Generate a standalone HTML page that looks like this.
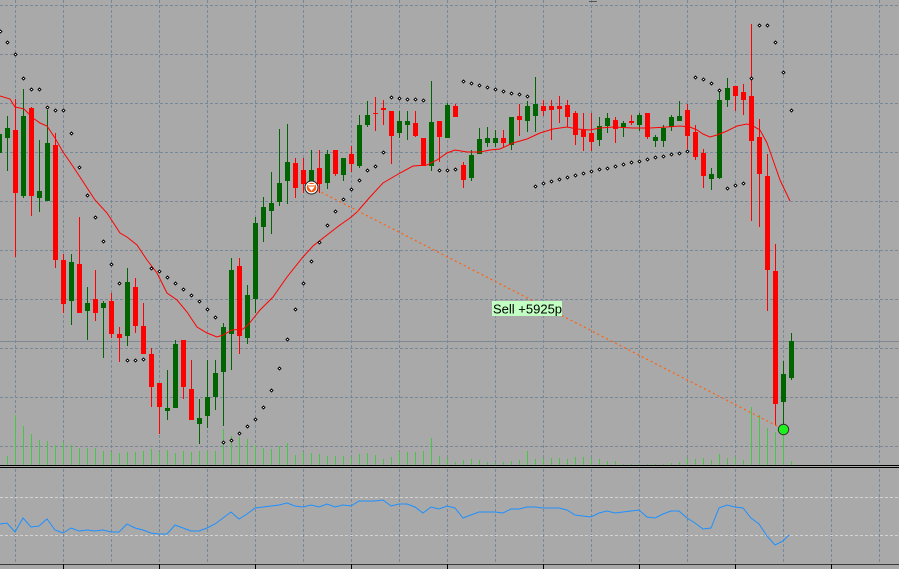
<!DOCTYPE html>
<html><head><meta charset="utf-8"><style>
html,body{margin:0;padding:0;background:#a9a9a9;width:899px;height:569px;overflow:hidden}
svg{display:block}
.g{fill:#006400}.r{fill:#ff0000}
</style></head><body>
<svg width="899" height="569" viewBox="0 0 899 569" xmlns="http://www.w3.org/2000/svg" shape-rendering="crispEdges">
<rect x="0" y="0" width="899" height="569" fill="#a9a9a9"/>
<!-- grid main -->
<g stroke="#778899" stroke-width="1" stroke-dasharray="3,2" fill="none">
<path d="M0 5.5H899M0 54.5H899M0 103.5H899M0 152.5H899M0 201.5H899M0 250.5H899M0 299.5H899M0 348.5H899M0 397.5H899M0 446.5H899"/>
<path d="M15.5 0V464M63.5 0V464M111.5 0V464M159.5 0V464M207.5 0V464M255.5 0V464M303.5 0V464M351.5 0V464M399.5 0V464M447.5 0V464M495.5 0V464M543.5 0V464M591.5 0V464M639.5 0V464M687.5 0V464M735.5 0V464M783.5 0V464M831.5 0V464M879.5 0V464"/>
<path d="M15.5 469V564M63.5 469V564M111.5 469V564M159.5 469V564M207.5 469V564M255.5 469V564M303.5 469V564M351.5 469V564M399.5 469V564M447.5 469V564M495.5 469V564M543.5 469V564M591.5 469V564M639.5 469V564M687.5 469V564M735.5 469V564M783.5 469V564M831.5 469V564M879.5 469V564"/>
</g>
<path d="M0 341.5H899" stroke="#7f8893" stroke-width="1"/>
<!-- sub window levels -->
<path d="M0 497.5H899M0 535.5H899" stroke="#d2d2d2" stroke-width="1" stroke-dasharray="3,2"/>
<!-- volumes -->
<path fill="none" stroke="#44c844" stroke-width="1" d="M7.5 456V465M15.5 415V465M23.5 426V465M31.5 434V465M39.5 440V465M47.5 441V465M55.5 445V465M63.5 442V465M71.5 445V465M79.5 448V465M87.5 448V465M95.5 448V465M103.5 451V465M111.5 452V465M119.5 453V465M127.5 452V465M135.5 452V465M143.5 451V465M151.5 449V465M159.5 452V465M167.5 450V465M175.5 453V465M183.5 451V465M191.5 452V465M199.5 451V465M207.5 451V465M215.5 451V465M223.5 429V465M231.5 436V465M239.5 437V465M247.5 439V465M255.5 445V465M263.5 448V465M271.5 449V465M279.5 446V465M287.5 443V465M295.5 455V465M303.5 452V465M311.5 453V465M319.5 454V465M327.5 456V465M335.5 456V465M343.5 456V465M351.5 457V465M359.5 454V465M367.5 453V465M375.5 455V465M383.5 459V465M391.5 457V465M399.5 452V465M407.5 452V465M415.5 452V465M423.5 451V465M431.5 438V465M439.5 456V465M447.5 458V465M455.5 462V465M463.5 460V465M471.5 459V465M479.5 460V465M487.5 462V465M495.5 463V465M503.5 462V465M511.5 461V465M519.5 460V465M527.5 451V465M535.5 459V465M543.5 458V465M551.5 458V465M559.5 458V465M567.5 459V465M575.5 457V465M583.5 457V465M591.5 458V465M599.5 459V465M607.5 461V465M615.5 461V465M623.5 464V465M631.5 464V465M639.5 464V465M647.5 464V465M655.5 464V465M663.5 464V465M671.5 463V465M679.5 462V465M687.5 458V465M695.5 459V465M703.5 458V465M711.5 460V465M719.5 454V465M727.5 458V465M735.5 457V465M743.5 460V465M751.5 407V465M759.5 415V465M767.5 428V465M775.5 432V465M783.5 433V465M791.5 461V465"/>
<!-- candles -->
<g>
<rect class="g" x="-1" y="128" width="1" height="33"/><rect class="g" x="-3" y="134" width="5" height="19"/>
<rect class="g" x="7" y="116" width="1" height="55"/><rect class="g" x="5" y="128" width="5" height="10"/>
<rect class="r" x="15" y="99" width="1" height="158"/><rect class="r" x="13" y="130" width="5" height="63"/>
<rect class="g" x="23" y="89" width="1" height="109"/><rect class="g" x="21" y="116" width="5" height="80"/>
<rect class="r" x="31" y="107" width="1" height="109"/><rect class="r" x="29" y="108" width="5" height="88"/>
<rect class="g" x="39" y="140" width="1" height="72"/><rect class="g" x="37" y="191" width="5" height="7"/>
<rect class="g" x="47" y="110" width="1" height="91"/><rect class="g" x="45" y="143" width="5" height="58"/>
<rect class="r" x="55" y="133" width="1" height="135"/><rect class="r" x="53" y="145" width="5" height="115"/>
<rect class="r" x="63" y="254" width="1" height="59"/><rect class="r" x="61" y="260" width="5" height="44"/>
<rect class="g" x="71" y="254" width="1" height="71"/><rect class="g" x="69" y="262" width="5" height="39"/>
<rect class="r" x="79" y="217" width="1" height="96"/><rect class="r" x="77" y="264" width="5" height="49"/>
<rect class="g" x="87" y="287" width="1" height="53"/><rect class="g" x="85" y="303" width="5" height="8"/>
<rect class="r" x="95" y="270" width="1" height="51"/><rect class="r" x="93" y="299" width="5" height="14"/>
<rect class="g" x="103" y="301" width="1" height="57"/><rect class="g" x="101" y="303" width="5" height="5"/>
<rect class="r" x="111" y="293" width="1" height="45"/><rect class="r" x="109" y="301" width="5" height="33"/>
<rect class="r" x="119" y="327" width="1" height="35"/><rect class="r" x="117" y="334" width="5" height="4"/>
<rect class="g" x="127" y="268" width="1" height="78"/><rect class="g" x="125" y="282" width="5" height="54"/>
<rect class="r" x="135" y="278" width="1" height="55"/><rect class="r" x="133" y="287" width="5" height="39"/>
<rect class="r" x="143" y="303" width="1" height="51"/><rect class="r" x="141" y="326" width="5" height="28"/>
<rect class="r" x="151" y="348" width="1" height="59"/><rect class="r" x="149" y="354" width="5" height="33"/>
<rect class="r" x="159" y="383" width="1" height="51"/><rect class="r" x="157" y="383" width="5" height="24"/>
<rect class="g" x="167" y="370" width="1" height="50"/><rect class="g" x="165" y="408" width="5" height="3"/>
<rect class="g" x="175" y="340" width="1" height="68"/><rect class="g" x="173" y="344" width="5" height="64"/>
<rect class="r" x="183" y="340" width="1" height="59"/><rect class="r" x="181" y="340" width="5" height="47"/>
<rect class="r" x="191" y="360" width="1" height="60"/><rect class="r" x="189" y="389" width="5" height="31"/>
<rect class="g" x="199" y="399" width="1" height="45"/><rect class="g" x="197" y="418" width="5" height="6"/>
<rect class="g" x="207" y="360" width="1" height="68"/><rect class="g" x="205" y="397" width="5" height="19"/>
<rect class="g" x="215" y="360" width="1" height="50"/><rect class="g" x="213" y="373" width="5" height="24"/>
<rect class="g" x="223" y="323" width="1" height="103"/><rect class="g" x="221" y="327" width="5" height="45"/>
<rect class="g" x="231" y="258" width="1" height="112"/><rect class="g" x="229" y="270" width="5" height="64"/>
<rect class="r" x="239" y="258" width="1" height="96"/><rect class="r" x="237" y="266" width="5" height="70"/>
<rect class="g" x="247" y="285" width="1" height="59"/><rect class="g" x="245" y="295" width="5" height="43"/>
<rect class="g" x="255" y="217" width="1" height="96"/><rect class="g" x="253" y="223" width="5" height="76"/>
<rect class="g" x="263" y="197" width="1" height="45"/><rect class="g" x="261" y="207" width="5" height="20"/>
<rect class="g" x="271" y="172" width="1" height="62"/><rect class="g" x="269" y="203" width="5" height="8"/>
<rect class="g" x="279" y="129" width="1" height="77"/><rect class="g" x="277" y="183" width="5" height="19"/>
<rect class="g" x="287" y="124" width="1" height="80"/><rect class="g" x="285" y="162" width="5" height="19"/>
<rect class="r" x="295" y="158" width="1" height="40"/><rect class="r" x="293" y="163" width="5" height="25"/>
<rect class="r" x="303" y="158" width="1" height="35"/><rect class="r" x="301" y="170" width="5" height="14"/>
<rect class="g" x="311" y="150" width="1" height="39"/><rect class="g" x="309" y="170" width="5" height="13"/>
<rect class="r" x="319" y="150" width="1" height="43"/><rect class="r" x="317" y="168" width="5" height="16"/>
<rect class="g" x="327" y="150" width="1" height="39"/><rect class="g" x="325" y="154" width="5" height="29"/>
<rect class="r" x="335" y="150" width="1" height="26"/><rect class="r" x="333" y="150" width="5" height="24"/>
<rect class="g" x="343" y="158" width="1" height="23"/><rect class="g" x="341" y="158" width="5" height="17"/>
<rect class="r" x="351" y="146" width="1" height="26"/><rect class="r" x="349" y="154" width="5" height="10"/>
<rect class="g" x="359" y="115" width="1" height="53"/><rect class="g" x="357" y="125" width="5" height="41"/>
<rect class="g" x="367" y="101" width="1" height="26"/><rect class="g" x="365" y="115" width="5" height="10"/>
<rect class="r" x="375" y="97" width="1" height="34"/><rect class="r" x="373" y="113" width="5" height="1"/>
<rect class="r" x="383" y="100" width="1" height="25"/><rect class="r" x="381" y="108" width="5" height="2"/>
<rect class="r" x="391" y="111" width="1" height="53"/><rect class="r" x="389" y="111" width="5" height="25"/>
<rect class="g" x="399" y="111" width="1" height="27"/><rect class="g" x="397" y="121" width="5" height="12"/>
<rect class="g" x="407" y="111" width="1" height="29"/><rect class="g" x="405" y="121" width="5" height="4"/>
<rect class="r" x="415" y="111" width="1" height="26"/><rect class="r" x="413" y="123" width="5" height="13"/>
<rect class="r" x="423" y="138" width="1" height="28"/><rect class="r" x="421" y="138" width="5" height="28"/>
<rect class="g" x="431" y="81" width="1" height="90"/><rect class="g" x="429" y="122" width="5" height="44"/>
<rect class="r" x="439" y="121" width="1" height="41"/><rect class="r" x="437" y="121" width="5" height="16"/>
<rect class="g" x="447" y="103" width="1" height="35"/><rect class="g" x="445" y="105" width="5" height="33"/>
<rect class="r" x="455" y="104" width="1" height="13"/><rect class="r" x="453" y="106" width="5" height="11"/>
<rect class="r" x="463" y="162" width="1" height="26"/><rect class="r" x="461" y="165" width="5" height="15"/>
<rect class="g" x="471" y="150" width="1" height="31"/><rect class="g" x="469" y="155" width="5" height="23"/>
<rect class="g" x="479" y="128" width="1" height="26"/><rect class="g" x="477" y="139" width="5" height="15"/>
<rect class="g" x="487" y="127" width="1" height="20"/><rect class="g" x="485" y="138" width="5" height="5"/>
<rect class="g" x="495" y="130" width="1" height="17"/><rect class="g" x="493" y="138" width="5" height="5"/>
<rect class="r" x="503" y="130" width="1" height="17"/><rect class="r" x="501" y="138" width="5" height="5"/>
<rect class="g" x="511" y="117" width="1" height="33"/><rect class="g" x="509" y="117" width="5" height="28"/>
<rect class="r" x="519" y="104" width="1" height="32"/><rect class="r" x="517" y="116" width="5" height="4"/>
<rect class="g" x="527" y="101" width="1" height="31"/><rect class="g" x="525" y="106" width="5" height="15"/>
<rect class="g" x="535" y="77" width="1" height="55"/><rect class="g" x="533" y="104" width="5" height="12"/>
<rect class="r" x="543" y="100" width="1" height="16"/><rect class="r" x="541" y="106" width="5" height="5"/>
<rect class="r" x="551" y="100" width="1" height="40"/><rect class="r" x="549" y="106" width="5" height="4"/>
<rect class="r" x="559" y="96" width="1" height="27"/><rect class="r" x="557" y="106" width="5" height="3"/>
<rect class="r" x="567" y="100" width="1" height="27"/><rect class="r" x="565" y="105" width="5" height="12"/>
<rect class="r" x="575" y="111" width="1" height="34"/><rect class="r" x="573" y="113" width="5" height="22"/>
<rect class="r" x="583" y="113" width="1" height="38"/><rect class="r" x="581" y="130" width="5" height="7"/>
<rect class="r" x="591" y="113" width="1" height="38"/><rect class="r" x="589" y="133" width="5" height="9"/>
<rect class="g" x="599" y="117" width="1" height="29"/><rect class="g" x="597" y="126" width="5" height="14"/>
<rect class="g" x="607" y="113" width="1" height="20"/><rect class="g" x="605" y="118" width="5" height="8"/>
<rect class="r" x="615" y="117" width="1" height="26"/><rect class="r" x="613" y="120" width="5" height="9"/>
<rect class="g" x="623" y="121" width="1" height="16"/><rect class="g" x="621" y="123" width="5" height="4"/>
<rect class="r" x="631" y="115" width="1" height="10"/><rect class="r" x="629" y="121" width="5" height="2"/>
<rect class="g" x="639" y="113" width="1" height="18"/><rect class="g" x="637" y="115" width="5" height="10"/>
<rect class="r" x="647" y="113" width="1" height="26"/><rect class="r" x="645" y="113" width="5" height="24"/>
<rect class="g" x="655" y="135" width="1" height="12"/><rect class="g" x="653" y="137" width="5" height="4"/>
<rect class="g" x="663" y="125" width="1" height="22"/><rect class="g" x="661" y="128" width="5" height="13"/>
<rect class="g" x="671" y="115" width="1" height="16"/><rect class="g" x="669" y="117" width="5" height="10"/>
<rect class="g" x="679" y="101" width="1" height="20"/><rect class="g" x="677" y="116" width="5" height="5"/>
<rect class="r" x="687" y="104" width="1" height="45"/><rect class="r" x="685" y="110" width="5" height="26"/>
<rect class="r" x="695" y="125" width="1" height="35"/><rect class="r" x="693" y="132" width="5" height="25"/>
<rect class="r" x="703" y="149" width="1" height="39"/><rect class="r" x="701" y="153" width="5" height="23"/>
<rect class="g" x="711" y="168" width="1" height="22"/><rect class="g" x="709" y="174" width="5" height="5"/>
<rect class="g" x="719" y="90" width="1" height="89"/><rect class="g" x="717" y="100" width="5" height="78"/>
<rect class="g" x="727" y="78" width="1" height="29"/><rect class="g" x="725" y="88" width="5" height="12"/>
<rect class="r" x="735" y="86" width="1" height="25"/><rect class="r" x="733" y="86" width="5" height="10"/>
<rect class="r" x="743" y="84" width="1" height="31"/><rect class="r" x="741" y="92" width="5" height="8"/>
<rect class="r" x="751" y="24" width="1" height="197"/><rect class="r" x="749" y="96" width="5" height="45"/>
<rect class="r" x="759" y="119" width="1" height="108"/><rect class="r" x="757" y="137" width="5" height="37"/>
<rect class="r" x="767" y="154" width="1" height="157"/><rect class="r" x="765" y="176" width="5" height="94"/>
<rect class="r" x="775" y="244" width="1" height="182"/><rect class="r" x="773" y="271" width="5" height="133"/>
<rect class="g" x="783" y="361" width="1" height="69"/><rect class="g" x="781" y="374" width="5" height="28"/>
<rect class="g" x="791" y="333" width="1" height="47"/><rect class="g" x="789" y="341" width="5" height="37"/>
</g>
<!-- moving average -->
<polyline fill="none" stroke="#ff0000" stroke-width="1" shape-rendering="auto" points="0,96 10,99 15,107 20,108 24,109 33,118 40,123 47,126 55,138 63,152 70,162 80,177 95,200 107,213 120,233 127,237 137,245 147,260 157,273 167,293 177,300 187,312 197,327 207,333 217,337 223,335 232,330 243,329 248,325 260,310 273,297 287,277 303,257 313,246 327,235 340,225 350,218 357,212 370,197 383,183 400,173 413,166 427,165 437,160 447,153 455,150 467,152 480,152 490,150 500,149 513,143 527,139 540,133 553,129 567,127 577,129 590,130 600,128 613,127 633,128 650,128 667,127 680,126 690,127 697,130 703,134 710,137 717,135 727,131 737,126 747,124 753,126 760,130 767,143 773,160 780,180 790,201"/>
<!-- parabolic SAR -->
<path fill="#ffffff" stroke="#000000" stroke-width="0.9" shape-rendering="auto" d="M-1 31.5l1.5-1.5 1.5 1.5-1.5 1.5zM6 42.5l1.5-1.5 1.5 1.5-1.5 1.5zM14 54.5l1.5-1.5 1.5 1.5-1.5 1.5zM22 78.5l1.5-1.5 1.5 1.5-1.5 1.5zM30 89.5l1.5-1.5 1.5 1.5-1.5 1.5zM38 89.5l1.5-1.5 1.5 1.5-1.5 1.5zM46 107.5l1.5-1.5 1.5 1.5-1.5 1.5zM54 110.5l1.5-1.5 1.5 1.5-1.5 1.5zM62 110.5l1.5-1.5 1.5 1.5-1.5 1.5zM70 133.5l1.5-1.5 1.5 1.5-1.5 1.5zM78 167.5l1.5-1.5 1.5 1.5-1.5 1.5zM86 195.5l1.5-1.5 1.5 1.5-1.5 1.5zM94 217.5l1.5-1.5 1.5 1.5-1.5 1.5zM102 241.5l1.5-1.5 1.5 1.5-1.5 1.5zM110 264.5l1.5-1.5 1.5 1.5-1.5 1.5zM118 283.5l1.5-1.5 1.5 1.5-1.5 1.5zM126 360.5l1.5-1.5 1.5 1.5-1.5 1.5zM134 360.5l1.5-1.5 1.5 1.5-1.5 1.5zM142 359.5l1.5-1.5 1.5 1.5-1.5 1.5zM150 268.5l1.5-1.5 1.5 1.5-1.5 1.5zM158 271.5l1.5-1.5 1.5 1.5-1.5 1.5zM166 277.5l1.5-1.5 1.5 1.5-1.5 1.5zM174 283.5l1.5-1.5 1.5 1.5-1.5 1.5zM182 289.5l1.5-1.5 1.5 1.5-1.5 1.5zM190 295.5l1.5-1.5 1.5 1.5-1.5 1.5zM198 301.5l1.5-1.5 1.5 1.5-1.5 1.5zM206 309.5l1.5-1.5 1.5 1.5-1.5 1.5zM214 317.5l1.5-1.5 1.5 1.5-1.5 1.5zM222 442.5l1.5-1.5 1.5 1.5-1.5 1.5zM230 440.5l1.5-1.5 1.5 1.5-1.5 1.5zM238 433.5l1.5-1.5 1.5 1.5-1.5 1.5zM246 426.5l1.5-1.5 1.5 1.5-1.5 1.5zM254 419.5l1.5-1.5 1.5 1.5-1.5 1.5zM262 407.5l1.5-1.5 1.5 1.5-1.5 1.5zM270 390.5l1.5-1.5 1.5 1.5-1.5 1.5zM278 368.5l1.5-1.5 1.5 1.5-1.5 1.5zM286 339.5l1.5-1.5 1.5 1.5-1.5 1.5zM294 309.5l1.5-1.5 1.5 1.5-1.5 1.5zM302 283.5l1.5-1.5 1.5 1.5-1.5 1.5zM310 261.5l1.5-1.5 1.5 1.5-1.5 1.5zM318 242.5l1.5-1.5 1.5 1.5-1.5 1.5zM326 225.5l1.5-1.5 1.5 1.5-1.5 1.5zM334 211.5l1.5-1.5 1.5 1.5-1.5 1.5zM342 199.5l1.5-1.5 1.5 1.5-1.5 1.5zM350 189.5l1.5-1.5 1.5 1.5-1.5 1.5zM358 180.5l1.5-1.5 1.5 1.5-1.5 1.5zM366 170.5l1.5-1.5 1.5 1.5-1.5 1.5zM374 166.5l1.5-1.5 1.5 1.5-1.5 1.5zM382 152.5l1.5-1.5 1.5 1.5-1.5 1.5zM390 97.5l1.5-1.5 1.5 1.5-1.5 1.5zM398 98.5l1.5-1.5 1.5 1.5-1.5 1.5zM406 99.5l1.5-1.5 1.5 1.5-1.5 1.5zM414 99.5l1.5-1.5 1.5 1.5-1.5 1.5zM422 100.5l1.5-1.5 1.5 1.5-1.5 1.5zM438 170.5l1.5-1.5 1.5 1.5-1.5 1.5zM446 170.5l1.5-1.5 1.5 1.5-1.5 1.5zM454 169.5l1.5-1.5 1.5 1.5-1.5 1.5zM462 81.5l1.5-1.5 1.5 1.5-1.5 1.5zM470 83.5l1.5-1.5 1.5 1.5-1.5 1.5zM478 85.5l1.5-1.5 1.5 1.5-1.5 1.5zM486 87.5l1.5-1.5 1.5 1.5-1.5 1.5zM494 89.5l1.5-1.5 1.5 1.5-1.5 1.5zM502 91.5l1.5-1.5 1.5 1.5-1.5 1.5zM510 93.5l1.5-1.5 1.5 1.5-1.5 1.5zM518 94.5l1.5-1.5 1.5 1.5-1.5 1.5zM526 96.5l1.5-1.5 1.5 1.5-1.5 1.5zM534 186.5l1.5-1.5 1.5 1.5-1.5 1.5zM542 183.5l1.5-1.5 1.5 1.5-1.5 1.5zM550 181.5l1.5-1.5 1.5 1.5-1.5 1.5zM558 179.5l1.5-1.5 1.5 1.5-1.5 1.5zM566 177.5l1.5-1.5 1.5 1.5-1.5 1.5zM574 175.5l1.5-1.5 1.5 1.5-1.5 1.5zM582 173.5l1.5-1.5 1.5 1.5-1.5 1.5zM590 171.5l1.5-1.5 1.5 1.5-1.5 1.5zM598 169.5l1.5-1.5 1.5 1.5-1.5 1.5zM606 168.5l1.5-1.5 1.5 1.5-1.5 1.5zM614 166.5l1.5-1.5 1.5 1.5-1.5 1.5zM622 164.5l1.5-1.5 1.5 1.5-1.5 1.5zM630 162.5l1.5-1.5 1.5 1.5-1.5 1.5zM638 161.5l1.5-1.5 1.5 1.5-1.5 1.5zM646 159.5l1.5-1.5 1.5 1.5-1.5 1.5zM654 157.5l1.5-1.5 1.5 1.5-1.5 1.5zM662 156.5l1.5-1.5 1.5 1.5-1.5 1.5zM670 154.5l1.5-1.5 1.5 1.5-1.5 1.5zM678 153.5l1.5-1.5 1.5 1.5-1.5 1.5zM686 151.5l1.5-1.5 1.5 1.5-1.5 1.5zM694 77.5l1.5-1.5 1.5 1.5-1.5 1.5zM702 79.5l1.5-1.5 1.5 1.5-1.5 1.5zM710 83.5l1.5-1.5 1.5 1.5-1.5 1.5zM718 90.5l1.5-1.5 1.5 1.5-1.5 1.5zM726 188.5l1.5-1.5 1.5 1.5-1.5 1.5zM734 185.5l1.5-1.5 1.5 1.5-1.5 1.5zM742 183.5l1.5-1.5 1.5 1.5-1.5 1.5zM750 78.5l1.5-1.5 1.5 1.5-1.5 1.5zM758 25.5l1.5-1.5 1.5 1.5-1.5 1.5zM766 25.5l1.5-1.5 1.5 1.5-1.5 1.5zM774 42.5l1.5-1.5 1.5 1.5-1.5 1.5zM782 72.5l1.5-1.5 1.5 1.5-1.5 1.5zM790 110.5l1.5-1.5 1.5 1.5-1.5 1.5z"/>
<!-- top small marker -->
<path d="M589 1.5H597" stroke="#555" stroke-width="1"/>
<!-- trade line -->
<line x1="317" y1="190" x2="777" y2="426" stroke="#ff6414" stroke-width="1.3" stroke-dasharray="2,3" shape-rendering="auto"/>
<!-- sell marker -->
<g shape-rendering="auto">
<circle cx="311.5" cy="187.5" r="6.5" fill="#ffffff" stroke="#222" stroke-width="1"/>
<circle cx="311.5" cy="187.5" r="4.8" fill="#f05a14"/>
<rect x="308" y="184" width="7" height="1.5" fill="#ffffff"/>
<polygon points="308,186.5 315,186.5 311.5,191" fill="#ffffff"/>
<!-- close marker -->
<circle cx="783.5" cy="429.5" r="5.2" fill="#1ef01e" stroke="#333" stroke-width="1"/>
</g>
<!-- label -->
<rect x="492" y="301" width="70" height="15" fill="#c2ffc2"/>
<text x="493" y="313.5" font-family="Liberation Sans, Arial, sans-serif" font-size="13" fill="#000">Sell +5925p</text>
<!-- window separator -->
<rect x="0" y="465" width="899" height="1" fill="#000"/>
<rect x="0" y="467" width="899" height="1" fill="#000"/>
<!-- indicator -->
<polyline fill="none" stroke="#1e90ff" stroke-width="1" shape-rendering="auto" points="0,524 7,523 15,532 23,518 31,527 39,526 47,519 55,530 63,533 71,528 79,531 87,530 95,531 103,530 111,532 119,532 127,524 135,528 143,530 151,533 159,534 167,534 175,525 183,528 191,531 199,531 207,528 215,524 223,518 231,512 239,519 247,514 255,508 263,507 271,506 279,505 287,503 295,506 303,507 311,505 319,507 327,504 335,507 343,505 351,506 359,501 367,501 375,501 383,500 391,506 399,504 407,504 415,507 423,513 431,507 439,509 447,506 455,508 463,518 471,515 479,512 487,512 495,512 503,513 511,509 519,509 527,507 535,507 543,508 551,508 559,508 567,510 575,515 583,516 591,517 599,513 607,511 615,513 623,512 631,511 639,510 647,517 655,518 663,514 671,511 679,511 687,518 695,523 703,529 711,528 719,508 727,505 735,507 743,508 751,518 759,524 767,536 775,545 783,541 789,535"/>
<!-- bottom axis -->
<rect x="0" y="564" width="899" height="1" fill="#3a3a3a"/>
<path d="M63.5 564V569M159.5 564V569M255.5 564V569M351.5 564V569M447.5 564V569M543.5 564V569M639.5 564V569M735.5 564V569M831.5 564V569" stroke="#000" stroke-width="1"/>
</svg>
</body></html>
